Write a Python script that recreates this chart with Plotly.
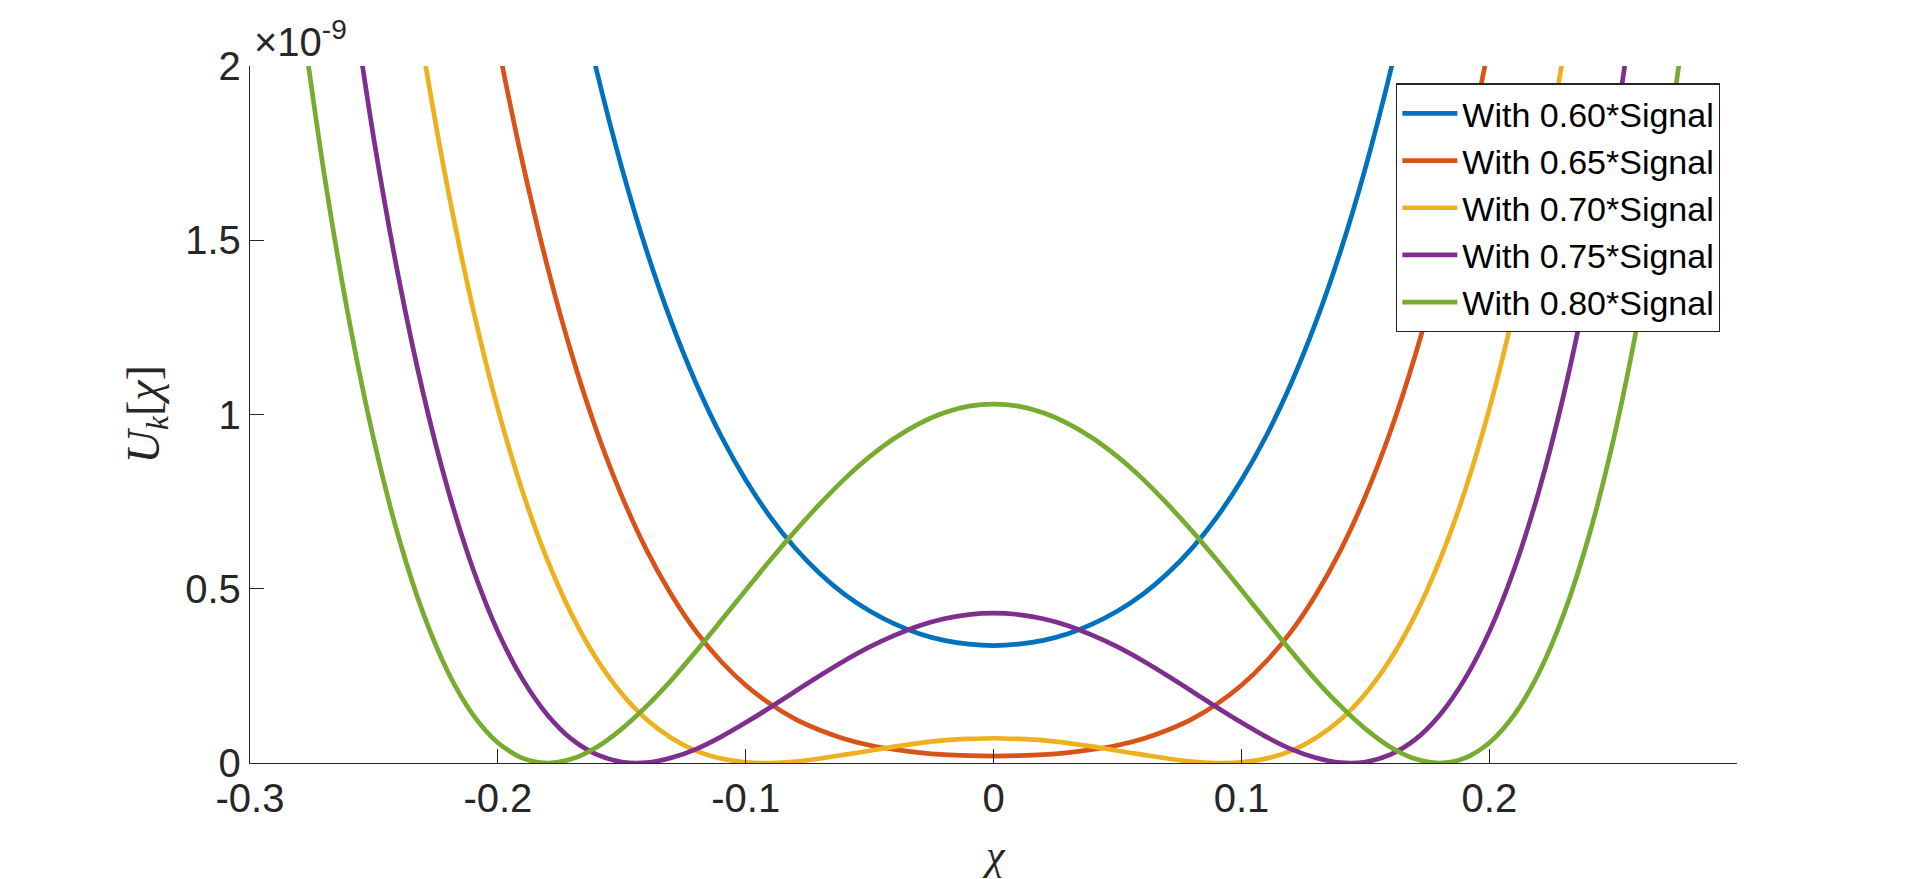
import plotly.graph_objects as go

# chi grid, shared by all curves
chi = [-0.28, -0.27, -0.26, -0.25, -0.24, -0.23, -0.22, -0.21, -0.20, -0.19,
       -0.18, -0.17, -0.16, -0.15, -0.14, -0.13, -0.12, -0.11, -0.10, -0.09,
       -0.08, -0.07, -0.06, -0.05, -0.04, -0.03, -0.02, -0.01, 0.0,
       0.01, 0.02, 0.03, 0.04, 0.05, 0.06, 0.07, 0.08, 0.09, 0.10,
       0.11, 0.12, 0.13, 0.14, 0.15, 0.16, 0.17, 0.18, 0.19, 0.20,
       0.21, 0.22, 0.23, 0.24, 0.25, 0.26, 0.27, 0.28]

# U_k values in units of 1e-9 (None = off the top of the plot)
u_060 = [None, None, None, None, None, None, None, None, None, None,
         2.657, 2.297, 1.982, 1.708, 1.470, 1.265, 1.089, 0.939, 0.812, 0.705,
         0.616, 0.543, 0.483, 0.436, 0.399, 0.371, 0.352, 0.341, 0.337,
         0.341, 0.352, 0.371, 0.399, 0.436, 0.483, 0.543, 0.616, 0.705, 0.812,
         0.939, 1.089, 1.265, 1.470, 1.708, 1.982, 2.297, 2.657, None, None,
         None, None, None, None, None, None, None, None]
u_065 = [None, None, None, None, None, None, None, 2.462, 2.066, 1.722,
         1.424, 1.168, 0.950, 0.766, 0.611, 0.483, 0.377, 0.292, 0.223, 0.169,
         0.126, 0.094, 0.069, 0.051, 0.039, 0.030, 0.024, 0.021, 0.020,
         0.021, 0.024, 0.030, 0.039, 0.051, 0.069, 0.094, 0.126, 0.169, 0.223,
         0.292, 0.377, 0.483, 0.611, 0.766, 0.950, 1.168, 1.424, 1.722, 2.066,
         2.462, None, None, None, None, None, None, None]
u_070 = [None, None, None, None, 2.500, 2.038, 1.640, 1.302, 1.016, 0.778,
         0.582, 0.423, 0.297, 0.199, 0.125, 0.072, 0.035, 0.013, 0.002, 0.000,
         0.004, 0.013, 0.024, 0.035, 0.047, 0.057, 0.065, 0.069, 0.071,
         0.069, 0.065, 0.057, 0.047, 0.035, 0.024, 0.013, 0.004, 0.000, 0.002,
         0.013, 0.035, 0.072, 0.125, 0.199, 0.297, 0.423, 0.582, 0.778, 1.016,
         1.302, 1.640, 2.038, 2.500, None, None, None, None]
u_075 = [None, None, 2.258, 1.789, 1.391, 1.057, 0.781, 0.556, 0.377, 0.240,
         0.138, 0.067, 0.024, 0.003, 0.001, 0.015, 0.040, 0.075, 0.116, 0.160,
         0.206, 0.251, 0.294, 0.333, 0.366, 0.394, 0.414, 0.426, 0.430,
         0.426, 0.414, 0.394, 0.366, 0.333, 0.294, 0.251, 0.206, 0.160, 0.116,
         0.075, 0.040, 0.015, 0.001, 0.003, 0.024, 0.067, 0.138, 0.240, 0.377,
         0.556, 0.781, 1.057, 1.391, 1.789, 2.258, None, None]
u_080 = [2.184, 1.687, 1.270, 0.926, 0.647, 0.427, 0.259, 0.138, 0.058, 0.014,
         0.000, 0.012, 0.046, 0.098, 0.163, 0.238, 0.321, 0.408, 0.496, 0.583,
         0.666, 0.744, 0.816, 0.879, 0.932, 0.974, 1.005, 1.024, 1.030,
         1.024, 1.005, 0.974, 0.932, 0.879, 0.816, 0.744, 0.666, 0.583, 0.496,
         0.408, 0.321, 0.238, 0.163, 0.098, 0.046, 0.012, 0.000, 0.014, 0.058,
         0.138, 0.259, 0.427, 0.647, 0.926, 1.270, 1.687, 2.184]

names = ["With 0.60*Signal", "With 0.65*Signal", "With 0.70*Signal",
         "With 0.75*Signal", "With 0.80*Signal"]
series = [u_060, u_065, u_070, u_075, u_080]
colors = ["#0072BD", "#D95319", "#EDB120", "#7E2F8E", "#77AC30"]

x_ticks = [-0.3, -0.2, -0.1, 0, 0.1, 0.2]
y_ticks = [0, 0.5, 1, 1.5, 2]

fig = go.Figure()
for name, vals, col in zip(names, series, colors):
    fig.add_trace(go.Scatter(x=chi, y=vals, name=name, mode="lines",
                             line=dict(color=col, width=4.7, shape="spline", smoothing=0.8)))

axis_col = "#262626"
tick_font = dict(family="Liberation Sans, Arial", size=40, color=axis_col)

fig.update_layout(
    width=1920, height=879,
    margin=dict(l=250, r=183, t=66, b=116),
    paper_bgcolor="white", plot_bgcolor="white",
    showlegend=True,
    legend=dict(x=0.9886, y=0.975, xanchor="right", yanchor="top",
                bgcolor="white", bordercolor="#262626", borderwidth=1.3,
                font=dict(family="Liberation Sans, Arial", size=34, color="black"),
                itemwidth=55, tracegroupgap=0),
)
fig.update_xaxes(range=[-0.3, 0.2999], tickvals=x_ticks, ticktext=["-0.3", "-0.2", "-0.1", "0", "0.1", "0.2"],
                 ticks="inside", ticklen=14, tickwidth=1.3, tickcolor=axis_col,
                 showline=True, linecolor=axis_col, linewidth=1.3, showgrid=False, zeroline=False,
                 tickfont=tick_font)
fig.update_yaxes(range=[0, 2], tickvals=y_ticks, ticktext=["0", "0.5", "1", "1.5", "2"],
                 ticks="inside", ticklen=14, tickwidth=1.3, tickcolor=axis_col,
                 showline=True, linecolor=axis_col, linewidth=1.3, showgrid=False, zeroline=False,
                 tickfont=tick_font)

# exponent label and latex-like axis labels
fig.add_annotation(text="×10<sup>-9</sup>", xref="paper", yref="paper", x=0, y=1,
                   xanchor="left", yanchor="bottom", showarrow=False, xshift=2, yshift=0,
                   font=dict(family="Liberation Sans, Arial", size=40, color=axis_col))
fig.add_annotation(text="<i>χ</i>", xref="paper", yref="paper", x=0.5, y=0,
                   xanchor="center", yanchor="middle", showarrow=False, yshift=-92,
                   font=dict(family="Liberation Serif, Times New Roman", size=42, color=axis_col))
fig.add_annotation(text="<i>U<sub>k</sub></i>[<i>χ</i>]", xref="paper", yref="paper", x=0, y=0.5,
                   xanchor="center", yanchor="middle", showarrow=False, xshift=-104, textangle=-90,
                   font=dict(family="Liberation Serif, Times New Roman", size=46, color=axis_col))

fig.write_html("out.html", config={"displayModeBar": False},
               post_script="document.body.style.margin='0';")
